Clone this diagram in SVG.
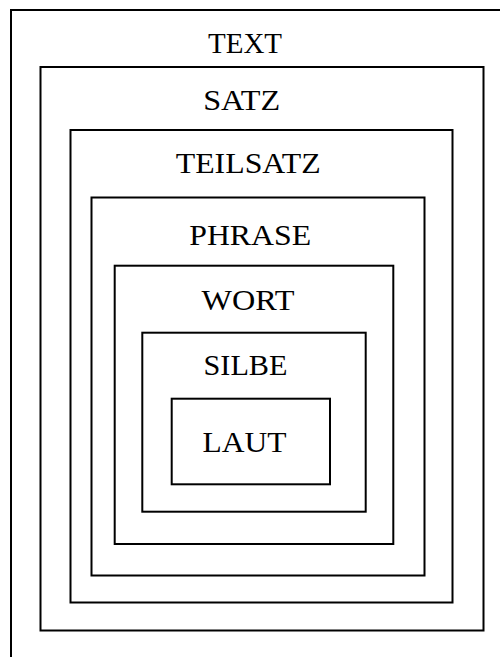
<svg xmlns="http://www.w3.org/2000/svg" width="500" height="657" viewBox="0 0 500 657">
  <style>
    .box { fill: none; stroke: #000; stroke-width: 2; }
    .label { font-family: "Liberation Serif", "Times New Roman", serif; font-size: 30px; fill: #000; text-anchor: middle; }
  </style>
  <rect width="500" height="657" fill="#fff"/>
  <!-- nested levels, outermost first -->
  <g id="text">
    <rect class="box" x="11" y="10" width="500" height="660"/>
    <text class="label" x="245" y="53.3" textLength="74" lengthAdjust="spacingAndGlyphs">TEXT</text>
  </g>
  <g id="satz">
    <rect class="box" x="40.5" y="67" width="443" height="563.5"/>
    <text class="label" x="241.7" y="110" textLength="77" lengthAdjust="spacingAndGlyphs">SATZ</text>
  </g>
  <g id="teilsatz">
    <rect class="box" x="70.5" y="130" width="382" height="472.5"/>
    <text class="label" x="248.2" y="173.3" textLength="145" lengthAdjust="spacingAndGlyphs">TEILSATZ</text>
  </g>
  <g id="phrase">
    <rect class="box" x="91.5" y="197.5" width="333" height="378"/>
    <text class="label" x="250.2" y="245" textLength="122" lengthAdjust="spacingAndGlyphs">PHRASE</text>
  </g>
  <g id="wort">
    <rect class="box" x="114.7" y="265.7" width="278.6" height="278.3"/>
    <text class="label" x="248" y="310" textLength="93" lengthAdjust="spacingAndGlyphs">WORT</text>
  </g>
  <g id="silbe">
    <rect class="box" x="142.3" y="332.7" width="223.4" height="179"/>
    <text class="label" x="245.5" y="375" textLength="84" lengthAdjust="spacingAndGlyphs">SILBE</text>
  </g>
  <g id="laut">
    <rect class="box" x="171.7" y="398.7" width="158.3" height="85.6"/>
    <text class="label" x="244.5" y="452.3" textLength="84" lengthAdjust="spacingAndGlyphs">LAUT</text>
  </g>
  <g id="connectors"/>
</svg>
